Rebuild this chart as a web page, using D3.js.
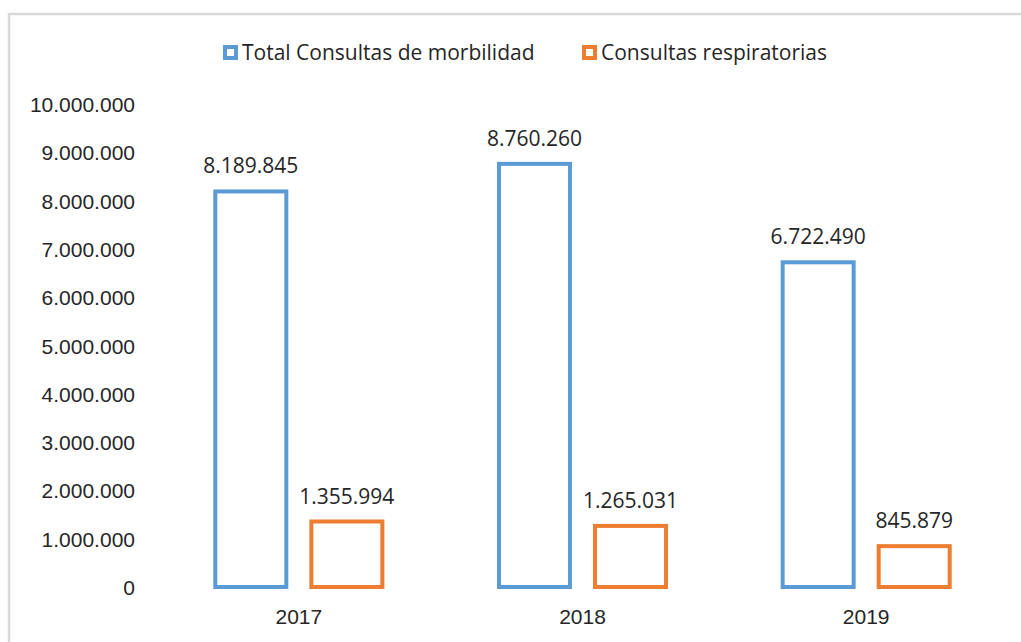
<!DOCTYPE html>
<html>
<head>
<meta charset="utf-8">
<script src="https://cdn.jsdelivr.net/npm/d3@7"></script>
<style>
  body { margin: 0; background: #fff; }
  svg { display: block; font-family: "Open Sans", sans-serif; }
  .tick-text { font-size: 21px; fill: #262626; }
</style>
</head>
<body>
<svg id="chart" width="1021" height="642"></svg>
<script>
const years = ["2017", "2018", "2019"];
const seriesNames = ["Total Consultas de morbilidad", "Consultas respiratorias"];
const totalConsultas = [8189845, 8760260, 6722490];
const respiratorias = [1355994, 1265031, 845879];
const yTicks = [0, 1000000, 2000000, 3000000, 4000000, 5000000, 6000000, 7000000, 8000000, 9000000, 10000000];
const COLORS = ["#5B9BD5", "#ED7D31"];

const WIDTH = 1021, HEIGHT = 642;
const PLOT = { LEFT: 157, RIGHT: 1008, TOP: 104, BOTTOM: 587 };
const STROKE = 4;

const fmt = v => d3.format(",")(v).replace(/,/g, ".");

const svg = d3.select("#chart");

// outer chart frame (cut off on right and bottom)
svg.append("rect")
  .attr("x", 9).attr("y", 14)
  .attr("width", 1100).attr("height", 700)
  .attr("fill", "none")
  .attr("stroke", "#d9d9d9")
  .attr("stroke-width", 2.5);

const y = d3.scaleLinear()
  .domain([0, 10000000])
  .range([PLOT.BOTTOM, PLOT.TOP]);

const x0 = d3.scaleBand()
  .domain(years)
  .range([PLOT.LEFT, PLOT.RIGHT])
  .paddingInner(0.397)
  .paddingOuter(0.397 / 2);

const x1 = d3.scaleBand()
  .domain(seriesNames)
  .range([0, x0.bandwidth()])
  .paddingInner(0.219);

// y axis labels only (no line, no gridlines)
const yAxis = svg.append("g")
  .attr("transform", `translate(${PLOT.LEFT - 22},0)`)
  .call(d3.axisLeft(y).tickValues(yTicks).tickFormat(fmt).tickSize(0).tickPadding(0));
yAxis.select(".domain").remove();
yAxis.selectAll("text")
  .attr("class", "tick-text")
  .attr("dy", "0.36em");

// x axis labels
const xAxis = svg.append("g")
  .attr("transform", `translate(0,${PLOT.BOTTOM})`)
  .call(d3.axisBottom(x0).tickSize(0).tickPadding(0));
xAxis.select(".domain").remove();
xAxis.selectAll("text")
  .attr("class", "tick-text")
  .attr("dy", "37");

const rows = years.map((yr, i) => ({
  year: yr,
  values: [
    { name: seriesNames[0], value: totalConsultas[i], color: COLORS[0] },
    { name: seriesNames[1], value: respiratorias[i], color: COLORS[1] }
  ]
}));

const groups = svg.selectAll(".group")
  .data(rows)
  .enter()
  .append("g")
  .attr("class", "group")
  .attr("transform", d => `translate(${x0(d.year)},0)`);

groups.selectAll("rect")
  .data(d => d.values)
  .enter()
  .append("rect")
  .attr("x", d => x1(d.name) + STROKE / 2)
  .attr("y", d => y(d.value))
  .attr("width", x1.bandwidth() - STROKE)
  .attr("height", d => y(0) - y(d.value))
  .attr("fill", "none")
  .attr("stroke", d => d.color)
  .attr("stroke-width", STROKE);

groups.selectAll(".label")
  .data(d => d.values)
  .enter()
  .append("text")
  .attr("class", "tick-text")
  .attr("x", d => x1(d.name) + x1.bandwidth() / 2)
  .attr("y", d => y(d.value) - 18)
  .attr("text-anchor", "middle")
  .text(d => fmt(d.value));

// legend
const legendX = [223, 582];
const legend = svg.selectAll(".legend")
  .data(seriesNames)
  .enter()
  .append("g")
  .attr("class", "legend")
  .attr("transform", (d, i) => `translate(${legendX[i]},45)`);

legend.append("rect")
  .attr("x", 2).attr("y", 2)
  .attr("width", 11).attr("height", 11)
  .attr("fill", "#fff")
  .attr("stroke", (d, i) => COLORS[i])
  .attr("stroke-width", 4);

legend.append("text")
  .attr("class", "tick-text")
  .attr("x", 19)
  .attr("y", 15)
  .text(d => d);
</script>
</body>
</html>
